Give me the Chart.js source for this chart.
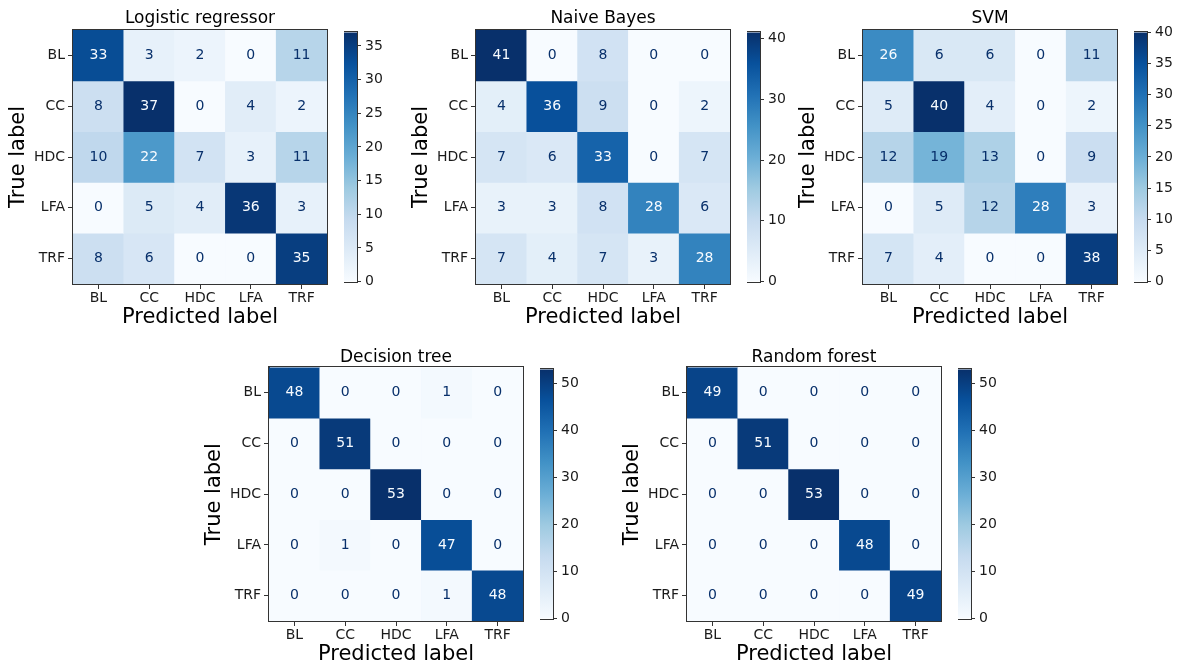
<!DOCTYPE html>
<html>
<head>
<meta charset="utf-8">
<script src="https://cdn.jsdelivr.net/npm/chart.js@4.4.1/dist/chart.umd.min.js"></script>
<style>
  html, body { margin: 0; padding: 0; background: #fff; }
  #figure { position: relative; width: 1178px; height: 666px; overflow: hidden; background: #fff; }
  #figure canvas { position: absolute; }
</style>
</head>
<body>
<div id="figure"></div>
<script>
// Class names shared by both axes of every confusion matrix
const classNames = ['BL', 'CC', 'HDC', 'LFA', 'TRF'];

// Confusion matrices: rows = true label, columns = predicted label
const logisticCounts = [
  [33, 3, 2, 0, 11],
  [8, 37, 0, 4, 2],
  [10, 22, 7, 3, 11],
  [0, 5, 4, 36, 3],
  [8, 6, 0, 0, 35]
];
const naiveBayesCounts = [
  [41, 0, 8, 0, 0],
  [4, 36, 9, 0, 2],
  [7, 6, 33, 0, 7],
  [3, 3, 8, 28, 6],
  [7, 4, 7, 3, 28]
];
const svmCounts = [
  [26, 6, 6, 0, 11],
  [5, 40, 4, 0, 2],
  [12, 19, 13, 0, 9],
  [0, 5, 12, 28, 3],
  [7, 4, 0, 0, 38]
];
const decisionTreeCounts = [
  [48, 0, 0, 1, 0],
  [0, 51, 0, 0, 0],
  [0, 0, 53, 0, 0],
  [0, 1, 0, 47, 0],
  [0, 0, 0, 1, 48]
];
const randomForestCounts = [
  [49, 0, 0, 0, 0],
  [0, 51, 0, 0, 0],
  [0, 0, 53, 0, 0],
  [0, 0, 0, 48, 0],
  [0, 0, 0, 0, 49]
];

// Colour-bar tick labels
const logisticTicks = [0, 5, 10, 15, 20, 25, 30, 35];
const naiveBayesTicks = [0, 10, 20, 30, 40];
const svmTicks = [0, 5, 10, 15, 20, 25, 30, 35, 40];
const decisionTreeTicks = [0, 10, 20, 30, 40, 50];
const randomForestTicks = [0, 10, 20, 30, 40, 50];

// Panel titles
const panelTitles = ['Logistic regressor', 'Naive Bayes', 'SVM', 'Decision tree', 'Random forest'];

// Page layout (top-left corner of each matrix and title gap, in px)
const panels = [
  { title: panelTitles[0], counts: logisticCounts,     ticks: logisticTicks,     left: 73,  top: 30,  gap: 1.6 },
  { title: panelTitles[1], counts: naiveBayesCounts,   ticks: naiveBayesTicks,   left: 476, top: 30,  gap: 1.6 },
  { title: panelTitles[2], counts: svmCounts,          ticks: svmTicks,          left: 863, top: 30,  gap: 1.6 },
  { title: panelTitles[3], counts: decisionTreeCounts, ticks: decisionTreeTicks, left: 269, top: 367, gap: 0 },
  { title: panelTitles[4], counts: randomForestCounts, ticks: randomForestTicks, left: 687, top: 367, gap: 0 }
];

const FONT = '"DejaVu Sans", "Liberation Sans", sans-serif';
const MATRIX = 254;       // matrix side
const Y_AXIS_W = 70;      // room for y ticks + "True label"
const X_AXIS_H = 48;      // room for x ticks + "Predicted label"
const TITLE_SIZE = 17, TITLE_TOP = 4;
const PAD_RIGHT = 3;
const CB_GAP = 17, CB_W = 13, CB_AXIS_W = 40, CB_PAD = 10;
const SPINE = '#333333';
const TEXT = '#1a1a1a';

// matplotlib "Blues" colour map
const bluesStops = ['#f7fbff', '#deebf7', '#c6dbef', '#9ecae1', '#6baed6', '#4292c6', '#2171b5', '#08519c', '#08306b'];
const hexToRgb = h => [1, 3, 5].map(i => parseInt(h.slice(i, i + 2), 16));
const bluesRgb = bluesStops.map(hexToRgb);
function blues(t) {
  t = Math.max(0, Math.min(1, t));
  const s = t * (bluesRgb.length - 1);
  const i = Math.min(Math.floor(s), bluesRgb.length - 2);
  const f = s - i;
  const a = bluesRgb[i], b = bluesRgb[i + 1];
  const c = a.map((v, k) => Math.round(v + (b[k] - v) * f));
  return `rgb(${c[0]},${c[1]},${c[2]})`;
}

// Frame round the plotting area
function strokeFrame(chart) {
  const { ctx, chartArea: a } = chart;
  ctx.save();
  ctx.strokeStyle = SPINE;
  ctx.lineWidth = 1;
  const l = Math.round(a.left) - 0.5, t = Math.round(a.top) - 0.5;
  const r = Math.round(a.right) + 0.5, b = Math.round(a.bottom) + 0.5;
  ctx.strokeRect(l, t, r - l, b - t);
  ctx.restore();
}

// Writes each count in its cell and frames the matrix
const cellText = {
  id: 'cellText',
  afterDatasetsDraw(chart, args, opts) {
    const { ctx, scales: { x, y } } = chart;
    ctx.save();
    ctx.font = `14px ${FONT}`;
    ctx.textAlign = 'center';
    ctx.textBaseline = 'middle';
    opts.counts.forEach((row, r) => row.forEach((v, c) => {
      ctx.fillStyle = v >= opts.threshold ? bluesStops[0] : bluesStops[bluesStops.length - 1];
      ctx.fillText(String(v), x.getPixelForValue(c), y.getPixelForValue(r));
    }));
    ctx.restore();
    strokeFrame(chart);
  }
};

const frameOnly = {
  id: 'frameOnly',
  afterDatasetsDraw(chart) { strokeFrame(chart); }
};

const fig = document.getElementById('figure');
function addCanvas(left, top, w, h) {
  const cv = document.createElement('canvas');
  cv.width = w; cv.height = h;
  cv.style.left = left + 'px';
  cv.style.top = top + 'px';
  cv.style.width = w + 'px';
  cv.style.height = h + 'px';
  fig.appendChild(cv);
  return cv;
}

const tickMarks = { drawOnChartArea: false, drawTicks: true, tickLength: 5, color: SPINE, lineWidth: 1 };

panels.forEach(p => {
  const vmax = Math.max(...p.counts.flat());
  const vmin = Math.min(...p.counts.flat());
  const titleBlock = TITLE_TOP + TITLE_SIZE * 1.2 + p.gap;

  // ---- confusion matrix ----
  const cv = addCanvas(p.left - Y_AXIS_W, p.top - titleBlock,
                       Y_AXIS_W + MATRIX + PAD_RIGHT, titleBlock + MATRIX + X_AXIS_H);
  new Chart(cv, {
    type: 'bar',
    data: {
      labels: classNames,
      datasets: p.counts.map((row, r) => ({
        label: classNames[r],
        data: row.map(() => [r - 0.5, r + 0.5]),
        backgroundColor: row.map(v => blues((v - vmin) / (vmax - vmin))),
        borderWidth: 0,
        grouped: false,
        barPercentage: 1,
        categoryPercentage: 1
      }))
    },
    options: {
      responsive: false,
      animation: false,
      events: [],
      layout: { padding: { left: 0, right: PAD_RIGHT, top: 0, bottom: 0 } },
      plugins: {
        legend: { display: false },
        tooltip: { enabled: false },
        title: {
          display: true, text: p.title, color: '#000',
          fullSize: false,
          font: { family: FONT, size: TITLE_SIZE, weight: 'normal', lineHeight: 1.2 },
          padding: { top: TITLE_TOP, bottom: p.gap }
        },
        cellText: { counts: p.counts, threshold: (vmax + vmin) / 2 }
      },
      scales: {
        x: {
          type: 'category',
          position: 'bottom',
          offset: true,
          grid: Object.assign({ offset: false }, tickMarks),
          border: { display: true, color: SPINE, width: 1 },
          ticks: { color: TEXT, font: { family: FONT, size: 14 }, padding: 1, maxRotation: 0, autoSkip: false },
          title: {
            display: true, text: 'Predicted label', color: '#000',
            font: { family: FONT, size: 21, lineHeight: 1.2 },
            padding: { top: 0, bottom: 1.5 }
          },
          afterFit: s => { s.height = X_AXIS_H; }
        },
        y: {
          type: 'linear',
          position: 'left',
          min: -0.5, max: 4.5,
          reverse: true,
          grid: tickMarks,
          border: { display: true, color: SPINE, width: 1 },
          afterBuildTicks: s => { s.ticks = classNames.map((_, i) => ({ value: i })); },
          ticks: {
            color: TEXT, font: { family: FONT, size: 14 }, padding: 3,
            callback: v => classNames[v]
          },
          title: {
            display: true, text: 'True label', color: '#000',
            font: { family: FONT, size: 21, lineHeight: 1.2 },
            padding: { top: 3, bottom: 0 }
          },
          afterFit: s => { s.width = Y_AXIS_W; }
        }
      }
    },
    plugins: [cellText]
  });

  // ---- colour bar ----
  const cb = addCanvas(p.left + MATRIX + CB_GAP, p.top - CB_PAD, CB_W + CB_AXIS_W, MATRIX + 2 * CB_PAD);
  new Chart(cb, {
    type: 'bar',
    data: {
      labels: [''],
      datasets: [{
        data: [[vmin, vmax]],
        borderWidth: 0,
        barPercentage: 1,
        categoryPercentage: 1,
        backgroundColor: ctx => {
          const a = ctx.chart.chartArea;
          if (!a) return bluesStops[4];
          const g = ctx.chart.ctx.createLinearGradient(0, a.bottom, 0, a.top);
          bluesStops.forEach((c, i) => g.addColorStop(i / (bluesStops.length - 1), c));
          return g;
        }
      }]
    },
    options: {
      responsive: false,
      animation: false,
      events: [],
      layout: { padding: { left: 0, right: 0, top: CB_PAD, bottom: CB_PAD } },
      plugins: { legend: { display: false }, tooltip: { enabled: false }, title: { display: false } },
      scales: {
        x: { display: false, offset: true },
        y: {
          type: 'linear',
          position: 'right',
          min: vmin, max: vmax,
          grid: { drawOnChartArea: false, drawTicks: true, tickLength: 4, color: SPINE },
          border: { display: true, color: SPINE },
          afterBuildTicks: s => { s.ticks = p.ticks.map(v => ({ value: v })); },
          ticks: { color: TEXT, font: { family: FONT, size: 14 }, padding: 4 },
          afterFit: s => { s.width = CB_AXIS_W; }
        }
      }
    },
    plugins: [frameOnly]
  });
});
</script>
</body>
</html>
